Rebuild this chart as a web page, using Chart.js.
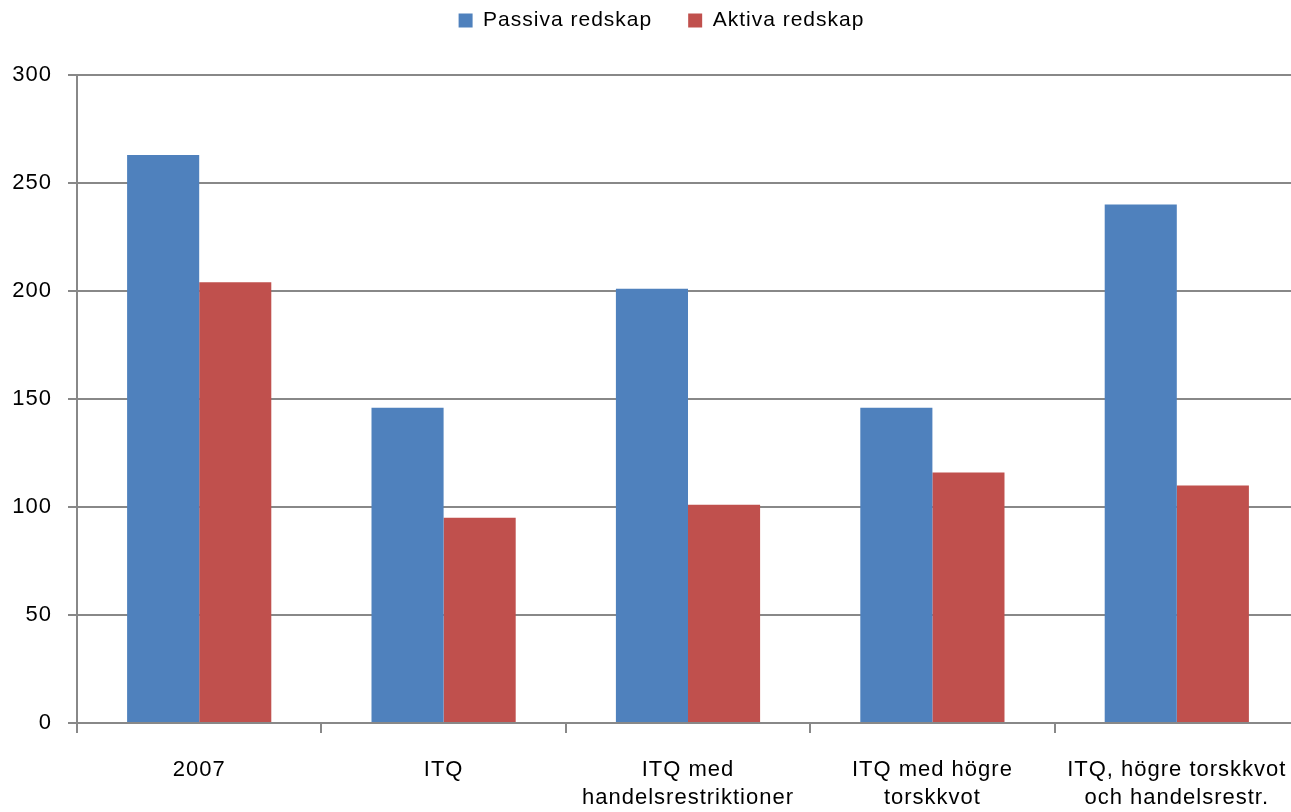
<!DOCTYPE html>
<html>
<head>
<meta charset="utf-8">
<script src="https://cdn.jsdelivr.net/npm/chart.js@4"></script>
<style>
html,body{margin:0;padding:0;background:#fff;overflow:hidden;}
#wrap{width:1291px;height:812px;overflow:hidden;}
</style>
</head>
<body>
<div id="wrap"><canvas id="c" width="1299" height="812"></canvas></div>
<script>
const categories = [
  "2007",
  "ITQ",
  ["ITQ med", "handelsrestriktioner"],
  ["ITQ med högre", "torskkvot"],
  ["ITQ, högre torskkvot", "och handelsrestr."]
];
const seriesNames = ["Passiva redskap", "Aktiva redskap"];
const passiva = [263, 146, 201, 146, 240];
const aktiva = [204, 95, 101, 116, 110];
const yTicks = [0, 50, 100, 150, 200, 250, 300];

const FONT = "'Liberation Sans', Arial, sans-serif";

const spacingPlugin = {
  id: 'spacing',
  afterInit(chart) { chart.ctx.letterSpacing = '1px'; },
  beforeLayout(chart) {
    chart.ctx.letterSpacing = '1px';
    const lg = chart.legend;
    if (lg && !lg._patched) {
      const f = lg.fit.bind(lg);
      lg.fit = function () { f(); this.height = 101; };
      lg._patched = true;
    }
  },
  afterLayout(chart) {
    const lg = chart.legend;
    if (lg) { lg.left += 12; lg.right += 12; }
  },
  beforeDraw(chart) { chart.ctx.letterSpacing = '1px'; }
};

new Chart(document.getElementById('c'), {
  type: 'bar',
  data: {
    labels: categories,
    datasets: [
      { label: seriesNames[0], data: passiva, backgroundColor: '#4F81BD', categoryPercentage: 0.59, barPercentage: 1.0 },
      { label: seriesNames[1], data: aktiva, backgroundColor: '#C0504D', categoryPercentage: 0.59, barPercentage: 1.0 }
    ]
  },
  plugins: [spacingPlugin],
  options: {
    responsive: false,
    animation: false,
    devicePixelRatio: 1,
    layout: { padding: { left: 0, right: 0, top: -26, bottom: 0 } },
    plugins: {
      legend: {
        position: 'top',
        labels: {
          color: '#000',
          font: { family: FONT, size: 21 },
          boxWidth: 14, boxHeight: 14,
          padding: 36
        }
      },
      tooltip: { enabled: false }
    },
    scales: {
      x: {
        grid: { drawOnChartArea: false, color: '#888', lineWidth: 2, tickLength: 10, offset: true },
        border: { color: '#888', width: 2 },
        ticks: { color: '#000', font: { family: FONT, size: 22, lineHeight: 1.27 }, padding: 23, maxRotation: 0, autoSkip: false },
        afterFit: s => { s.height = 89; s.paddingLeft = 0; s.paddingRight = 0; }
      },
      y: {
        min: 0, max: 300,
        afterBuildTicks: s => { s.ticks = yTicks.map(v => ({ value: v })); },
        grid: { color: '#888', lineWidth: 2, tickLength: 9 },
        border: { color: '#888', width: 2 },
        ticks: { color: '#000', font: { family: FONT, size: 22 }, padding: 16 },
        afterFit: s => { s.width = 77; }
      }
    }
  }
});
</script>
</body>
</html>
